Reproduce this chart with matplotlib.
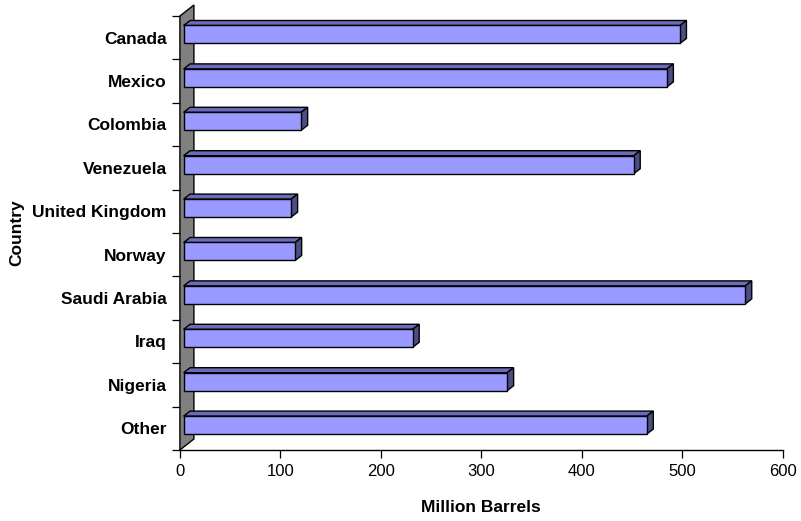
import matplotlib
matplotlib.use("Agg")
import matplotlib.pyplot as plt
from matplotlib.patches import Polygon
from matplotlib.transforms import Affine2D

# Crude oil imports by country of origin
countries = ["Canada", "Mexico", "Colombia", "Venezuela", "United Kingdom",
             "Norway", "Saudi Arabia", "Iraq", "Nigeria", "Other"]
barrels = [494, 481, 117, 448, 107, 111, 559, 228, 322, 461]
x_ticks = [0, 100, 200, 300, 400, 500, 600]

plt.rcParams["font.family"] = ["Liberation Sans", "DejaVu Sans"]

n = len(countries)
xmax = x_ticks[-1]

fig = plt.figure(figsize=(8.01, 5.21), dpi=100)
pos = [0.2246, 0.1363, 0.7526, 0.8330]
ax = fig.add_axes(pos)
ax.set_xlim(0, xmax)
ax.set_ylim(0, n)

# pixel -> data unit factors
ux = xmax / (pos[2] * 801)
uy = n / (pos[3] * 521)

# pseudo-3d depths, in pixels
wall_dx, wall_dy = 14, 11
front_dx, front_dy = 3.7, 3.2
depth_dx, depth_dy = 6.5, 5
bar_h = 18 * uy

face = "#9999FF"
top_col = "#6B6BB8"
side_col = "#4D4D85"

# grey back wall
wall = Polygon([(0, 0), (0, n), (wall_dx * ux, n + wall_dy * uy),
                (wall_dx * ux, wall_dy * uy)],
               closed=True, facecolor="#808080", edgecolor="black",
               lw=1.0, clip_on=False, zorder=1)
ax.add_patch(wall)

yc = [n - 1 - i + 0.5 for i in range(n)]
shift = ax.transData + Affine2D().translate(front_dx, front_dy)
ax.barh(yc, barrels, height=bar_h, color=face, edgecolor="black",
        lw=1.0, transform=shift, zorder=3, clip_on=False)

ddx, ddy = depth_dx * ux, depth_dy * uy
x0 = front_dx * ux
for y, v in zip(yc, barrels):
    yt = y + bar_h / 2 + front_dy * uy
    yb = yt - bar_h
    top = Polygon([(x0, yt), (x0 + v, yt), (x0 + v + ddx, yt + ddy),
                   (x0 + ddx, yt + ddy)], closed=True, facecolor=top_col,
                  edgecolor="black", lw=1.0, zorder=2, clip_on=False)
    side = Polygon([(x0 + v, yb), (x0 + v, yt), (x0 + v + ddx, yt + ddy),
                    (x0 + v + ddx, yb + ddy)], closed=True, facecolor=side_col,
                   edgecolor="black", lw=1.0, zorder=2, clip_on=False)
    ax.add_patch(top)
    ax.add_patch(side)

for s in ("top", "right"):
    ax.spines[s].set_visible(False)
ax.spines["left"].set_visible(False)
ax.spines["bottom"].set_linewidth(1.0)

ax.set_xticks(x_ticks)
ax.tick_params(axis="x", direction="out", length=5.8, width=0.9,
               labelsize=12, pad=4)
ax.set_yticks(yc)
ax.set_yticklabels(countries, fontweight="bold", fontsize=12.5)
ax.set_yticks(range(n + 1), minor=True)
ax.tick_params(axis="y", which="major", length=0, pad=9.5)
ax.tick_params(axis="y", which="minor", direction="out", length=5.8,
               width=0.9)

fig.text(481 / 801, 1 - 508 / 521, "Million Barrels", ha="center",
         va="center", fontsize=12.5, fontweight="bold")
fig.text(17 / 801, 1 - 233 / 521, "Country", ha="center", va="center",
         rotation=90, fontsize=12.5, fontweight="bold")

fig.savefig("out.png", dpi=100)
